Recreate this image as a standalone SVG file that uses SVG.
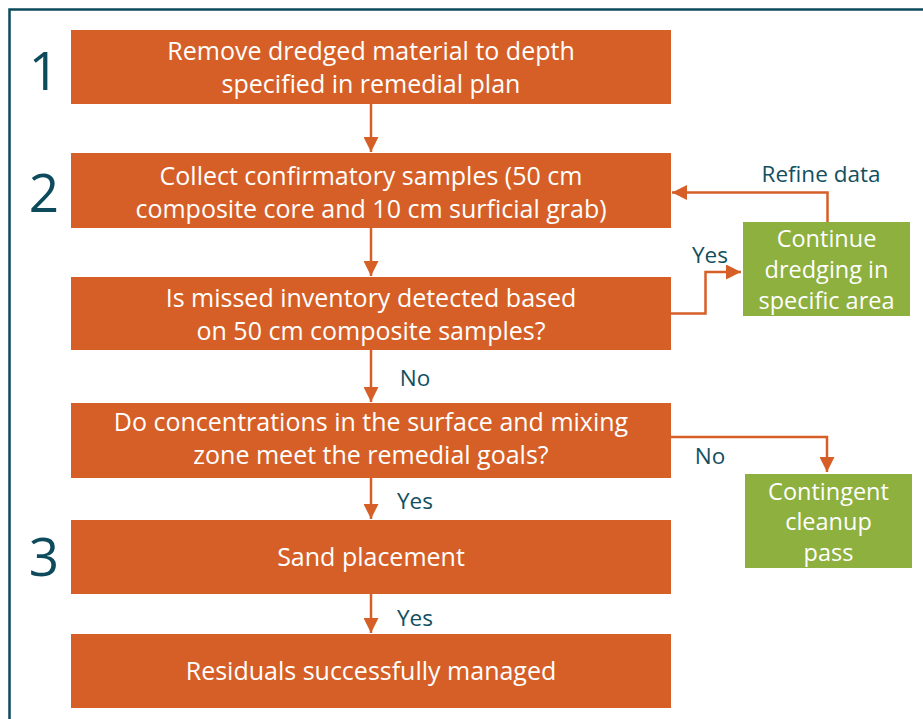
<svg xmlns="http://www.w3.org/2000/svg" width="923" height="719" viewBox="0 0 923 719">
<defs>
<style>
.box{fill:#D55F27}
.gbox{fill:#8DB03F}
.bt{font-family:"Open Sans","Noto Sans",sans-serif;font-size:25px;fill:#ffffff;text-anchor:middle}
.gt{font-family:"Open Sans","Noto Sans",sans-serif;font-size:23.5px;fill:#ffffff;text-anchor:middle}
.lbl{font-family:"Open Sans","Noto Sans",sans-serif;font-size:22.5px;fill:#12505F;text-anchor:middle}
.num{font-family:"Open Sans","Noto Sans",sans-serif;font-size:53px;fill:#0D4A5C;text-anchor:middle}
.con{fill:none;stroke:#D55F27;stroke-width:2.5}
</style>
<marker id="ah" viewBox="0 0 10 10" refX="10" refY="5" markerWidth="6" markerHeight="6" markerUnits="strokeWidth" orient="auto">
<path d="M0,0 L10,5 L0,10 z" fill="#D55F27"/>
</marker>
</defs>
<rect x="9.5" y="9.5" width="930" height="730" fill="none" stroke="#0D4A5C" stroke-width="2.5"/>
<g id="step-numbers">
<text class="num" x="44" y="90">1</text>
<text class="num" x="44" y="212">2</text>
<text class="num" x="44" y="576">3</text>
</g>
<g id="connectors">
<path class="con" d="M371,104 L371,152" marker-end="url(#ah)"/>
<path class="con" d="M371,228 L371,276" marker-end="url(#ah)"/>
<path class="con" d="M371,350 L371,402" marker-end="url(#ah)"/>
<path class="con" d="M371,478 L371,519" marker-end="url(#ah)"/>
<path class="con" d="M371,594 L371,633" marker-end="url(#ah)"/>
<path class="con" d="M827.5,222 L827.5,192.5 L672,192.5" marker-end="url(#ah)"/>
<path class="con" d="M671,313.5 L705.5,313.5 L705.5,272 L741,272" marker-end="url(#ah)"/>
<path class="con" d="M671,437 L827,437 L827,472" marker-end="url(#ah)"/>
</g>
<g id="labels">
<text class="lbl" x="821" y="182">Refine data</text>
<text class="lbl" x="710" y="263">Yes</text>
<text class="lbl" x="415" y="386">No</text>
<text class="lbl" x="710" y="464">No</text>
<text class="lbl" x="415" y="509">Yes</text>
<text class="lbl" x="415" y="626">Yes</text>
</g>
<g id="node-remove">
<rect class="box" x="71" y="30" width="600" height="74"/>
<text class="bt" x="371" y="60">Remove dredged material to depth</text>
<text class="bt" x="371" y="93">specified in remedial plan</text>
</g>
<g id="node-collect">
<rect class="box" x="71" y="153" width="600" height="75"/>
<text class="bt" x="371" y="185">Collect confirmatory samples (50 cm</text>
<text class="bt" x="371" y="218">composite core and 10 cm surficial grab)</text>
</g>
<g id="node-missed">
<rect class="box" x="71" y="277" width="600" height="73"/>
<text class="bt" x="371" y="307">Is missed inventory detected based</text>
<text class="bt" x="371" y="340">on 50 cm composite samples?</text>
</g>
<g id="node-concentrations">
<rect class="box" x="71" y="403" width="600" height="75"/>
<text class="bt" x="371" y="431">Do concentrations in the surface and mixing</text>
<text class="bt" x="371" y="464">zone meet the remedial goals?</text>
</g>
<g id="node-sand">
<rect class="box" x="71" y="520" width="600" height="74"/>
<text class="bt" x="371" y="566">Sand placement</text>
</g>
<g id="node-residuals">
<rect class="box" x="71" y="634" width="600" height="74"/>
<text class="bt" x="371" y="680">Residuals successfully managed</text>
</g>
<g id="node-continue">
<rect class="gbox" x="743" y="222" width="167" height="94"/>
<text class="gt" x="826.5" y="247">Continue</text>
<text class="gt" x="826.5" y="278">dredging in</text>
<text class="gt" x="826.5" y="309">specific area</text>
</g>
<g id="node-contingent">
<rect class="gbox" x="745" y="474" width="167" height="94"/>
<text class="gt" x="828.5" y="500">Contingent</text>
<text class="gt" x="828.5" y="530">cleanup</text>
<text class="gt" x="828.5" y="561">pass</text>
</g>
</svg>
